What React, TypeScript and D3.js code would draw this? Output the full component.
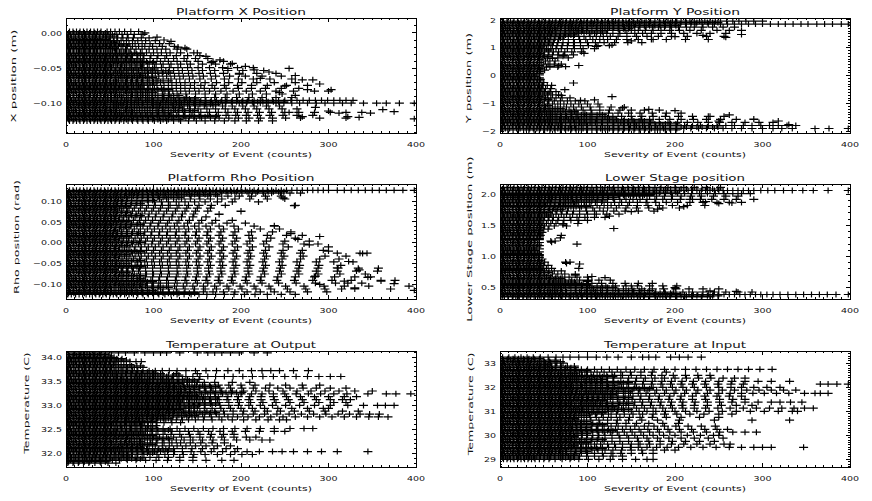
import React from "react";
import * as d3 from "d3";

type Row = [number, string];
type Pt = [number, number];

// ---------- shared x axis ----------
const severityDomain: [number, number] = [0, 400];
const severityTicks = [0, 100, 200, 300, 400];
const severityLabel = "Severity of Event (counts)";

// dense low-severity x values (counts), staggered sets read from the solid regions
const coreA = "0 4 8 12 16 20 24 28 32 36 40";
const coreB = "1 5 9 14 18 22 26 31 35 39 43";
const coreC = "2 6 11 15 19 23 27 30 34 38 42";
const fill45 = "3 9 15 21 27 33 39 45";
const fill55 = "3 9 15 21 27 33 39 45 51 55";
const fill70 = "3 9 15 21 27 33 39 45 51 57 63 69";
const fill85 = "3 9 15 21 27 33 39 45 51 57 63 69 75 81 85";
const fill100 = "3 9 15 21 27 33 39 45 51 57 63 69 75 81 87 93 99";
const fill120 = "3 9 15 21 27 33 39 45 51 57 63 69 75 81 87 93 99 105 111 117";
const fill130 = "3 9 15 21 27 33 39 45 51 57 63 69 75 81 87 93 99 105 111 117 123 129";
const fill150 = "3 9 15 21 27 33 39 45 51 57 63 69 75 81 87 93 99 105 111 117 123 129 135 141 147";
const fill175 = "3 9 15 21 27 33 39 45 51 57 63 69 75 81 87 93 99 105 111 117 123 129 135 141 147 153 159 165 171";
const fill200 = "3 9 15 21 27 33 39 45 51 57 63 69 75 81 87 93 99 105 111 117 123 129 135 141 147 153 159 165 171 177 183 189 195 201";
const fill250 = "3 9 15 21 27 33 39 45 51 57 63 69 75 81 87 93 99 105 111 117 123 129 135 141 147 153 159 165 171 177 183 189 195 201 207 213 219 225 231 237 243 249";

// ---------- Platform X Position ----------
const platformXTicks = [-0.1, -0.05, 0.0];
const platformXTickText = ["\u22120.10", "\u22120.05", "0.00"];
const platformXRows: Row[] = [
  [0.002, coreA + " 47 51 56 61 67 74 83"],
  [-0.002, coreB + " 48 53 58 64 70 78 88"],
  [-0.007, coreC + " 46 50 55 59 65 71 77 86 95"],
  [-0.011, coreA + " 45 49 54 58 63 69 76 82 91 102"],
  [-0.015, coreB + " 47 52 56 61 66 72 79 87 96 107 118"],
  [-0.019, coreC + " 46 50 55 60 65 70 76 83 90 99 110 124"],
  [-0.023, coreA + " 45 49 53 58 63 68 74 80 87 95 104 114 127 138"],
  [-0.028, coreB + " 47 51 56 61 66 72 78 85 92 100 109 119 131 146"],
  [-0.032, coreC + " 46 50 54 59 64 70 76 82 89 97 105 115 126 139 153"],
  [-0.036, coreA + " 44 48 53 58 63 68 74 81 88 96 104 113 123 135 148 162"],
  [-0.04, coreB + " 47 51 55 60 66 72 78 85 92 100 108 117 127 138 151 168 180"],
  [-0.044, coreC + " 46 50 54 59 64 69 75 81 88 95 103 111 120 131 142 156 171 188"],
  [-0.049, coreA + " 44 48 52 57 62 67 73 79 86 93 101 109 118 128 139 151 164 179 196 214"],
  [-0.053, coreB + " 47 51 56 61 66 71 77 83 90 97 105 114 123 133 144 156 170 185 202 226"],
  [-0.057, coreC + " 46 50 54 59 64 69 75 81 87 94 102 110 119 129 140 152 165 180 198 218 240"],
  [-0.061, coreA + " 44 48 52 57 62 67 72 78 84 91 98 106 115 124 134 145 157 171 187 205 224 246"],
  [-0.065, coreB + " 47 51 56 60 65 70 76 82 88 95 103 111 120 130 141 153 166 181 197 214 233 258"],
  [-0.07, coreC + " 46 50 54 58 63 68 74 80 86 93 100 108 117 126 136 147 159 172 186 201 218 238 262"],
  [-0.074, coreA + " 44 48 52 56 61 66 71 77 83 89 96 104 112 121 131 142 154 167 181 196 212 230 252 276"],
  [-0.078, coreB + " 47 51 55 60 65 70 75 81 87 94 101 109 117 126 136 147 158 170 183 197 212 228 246 266"],
  [-0.082, coreC + " 46 50 54 58 63 68 73 79 85 91 98 105 113 122 131 141 152 164 177 191 206 222 240 260 284 300"],
  [-0.086, coreA + " 44 48 52 56 61 66 71 76 82 88 95 102 110 118 127 137 148 159 171 184 198 213 229 247"],
  [-0.091, coreB + " 47 51 55 59 64 69 74 79 85 91 98 105 112 120 129 138 148 159 170 182 195 209 224 240 258"],
  [-0.095, coreC + " 45 48 52 55 59 63 67 71 75 79 83 87 91 95 100 105 110 115 120 125 130 136 142 148 154 160 166 172 178 184 190 196 202 208 215 222 229 236 243 250 257 264 271 278 285 292 299 306 313 320 328"],
  [-0.099, coreA + " 44 47 51 54 58 62 66 70 74 78 83 88 93 98 103 108 114 120 126 132 139 146 153 160 167 174 182 190 198 206 214 222 231 240 249 258 267 276 286 296 306 316 326 340 355 366 381 398"],
  [-0.103, coreB + " 47 51 55 60 65 70 75 81 87 93 100 107 114 122 130 139 148 158 168 179 190 202 215 229 244"],
  [-0.107, coreC + " 46 50 54 58 63 68 73 78 84 90 96 103 110 117 125 133 142 151 161 171 182 193 205 218 232 247 264"],
  [-0.112, coreA + " 44 48 52 56 61 66 71 76 81 87 93 99 106 113 120 128 136 145 154 164 174 185 196 208 221 235 250 266 284 302 320 338"],
  [-0.116, coreB + " 47 51 55 59 64 69 74 79 85 91 97 104 111 118 126 134 143 152 162 172 183 194 206 219 233 248 264 282"],
  [-0.12, coreC + " 46 50 54 58 62 67 72 77 82 88 94 100 107 114 121 129 137 146 155 165 175 186 197 209 222 236 251 268 290 320"],
  [-0.124, coreA + " 44 48 52 56 61 66 71 76 82 88 94 101 108 115 123 131 140 149 159 170 181 193 206 220 236"],
  [0.0, fill45], [-0.0045, fill55], [-0.009, fill45], [-0.013, fill55], [-0.017, fill70], [-0.021, fill55],
  [-0.0255, fill70], [-0.03, fill85], [-0.034, fill70], [-0.038, fill85], [-0.042, fill100], [-0.0465, fill85],
  [-0.051, fill100], [-0.055, fill120], [-0.059, fill85], [-0.063, fill100], [-0.0675, fill120], [-0.072, fill100],
  [-0.076, fill85], [-0.08, fill120], [-0.084, fill100], [-0.0885, fill130], [-0.093, fill150], [-0.097, fill250],
  [-0.101, fill175], [-0.105, fill130], [-0.1095, fill150], [-0.114, fill120], [-0.118, fill175], [-0.122, fill130],
];
const platformXLoose: Pt[] = [
  [90, 0.0], [104, -0.006], [112, -0.01], [120, -0.012], [128, -0.02], [136, -0.021], [150, -0.028],
  [160, -0.033], [176, -0.038], [166, -0.042], [190, -0.043], [205, -0.047], [215, -0.052], [232, -0.055],
  [255, -0.05], [262, -0.06], [270, -0.066], [282, -0.066], [290, -0.072], [303, -0.08], [276, -0.08],
  [250, -0.075], [244, -0.084], [222, -0.064], [198, -0.058], [185, -0.05], [262, -0.088], [285, -0.105],
  [300, -0.11], [312, -0.113], [322, -0.118], [335, -0.119], [348, -0.113], [362, -0.108], [375, -0.111],
  [398, -0.121], [270, -0.118], [255, -0.112],
];

// ---------- Platform Y Position ----------
const platformYTicks = [-2, -1, 0, 1, 2];
const platformYTickText = ["\u22122", "\u22121", "0", "1", "2"];
const platformYRows: Row[] = [
  [1.96, coreA + " 44 48 52 56 60 64 68 72 76 80 84 88 92 96 100 104 108 112 116 120 124 128 132 136 140 144 148 152 157 162 167 172 177 182 187 192 197 202 207 212 217 222 228 234 240 246 252 259 266 273 281 290 300"],
  [1.85, coreB + " 47 51 55 59 63 67 71 75 79 83 87 91 95 99 103 107 111 115 120 125 130 135 140 145 150 155 160 165 170 176 182 188 194 200 206 212 218 224 231 238 245 252 260 268 276 284 292 300 309 318 326 335 344 352 362 371 380 390 398"],
  [1.74, coreC + " 46 50 54 58 62 66 70 74 78 82 86 90 95 100 105 110 115 120 125 130 136 142 148 154 160 167 174 181 188 196 204 213 222 232 243 255 268"],
  [1.63, coreA + " 44 48 52 56 60 64 69 74 79 84 89 94 99 105 111 117 123 129 136 143 150 158 166 175 184 194 205 217 230 248 262 276"],
  [1.52, coreB + " 47 51 55 59 64 69 74 79 84 90 96 102 108 115 122 129 137 145 154 163 173 184 196 210 225 240 258"],
  [1.41, coreC + " 46 50 54 58 63 68 73 78 84 90 96 103 110 118 126 135 145 156 168 181 196 214 236 256"],
  [1.3, coreA + " 44 48 52 57 62 67 72 78 84 91 98 106 114 123 133 145 158 173 190 212 238"],
  [1.19, coreB + " 47 51 56 61 66 72 78 85 92 100 109 119 131 146 162"],
  [1.08, coreC + " 46 50 55 60 65 71 77 84 92 101 112 125"],
  [0.97, coreA + " 44 48 53 58 64 70 77 85 95 108"],
  [0.86, coreB + " 47 51 56 61 67 74 82 93"],
  [0.75, coreC + " 46 50 55 60 66 73 84"],
  [0.64, coreA + " 44 49 54 60 66 78"],
  [0.53, coreB + " 47 52 57 63"],
  [0.42, coreC + " 45 50 55 62 70"],
  [0.31, coreA + " 44 48 53 57 66"],
  [0.2, coreB + " 46 51"],
  [0.09, coreC + " 45"],
  [-0.02, coreA],
  [-0.13, coreB + " 46"],
  [-0.24, coreC + " 45 50"],
  [-0.35, coreA + " 44 49 54"],
  [-0.46, coreB + " 47 52 58"],
  [-0.57, coreC + " 46 51 57 64"],
  [-0.68, coreA + " 44 49 54 60 67"],
  [-0.79, coreB + " 47 52 58 64 71 80"],
  [-0.9, coreC + " 46 51 56 62 69 77 86 97"],
  [-1.01, coreA + " 44 49 54 60 66 73 81 90 100 112"],
  [-1.12, coreB + " 47 52 57 63 69 76 84 93 103 114 127 142"],
  [-1.23, coreC + " 46 50 55 60 66 72 79 87 95 104 114 125 137 150 165 182"],
  [-1.34, coreA + " 44 48 53 58 63 69 75 82 89 97 105 114 124 135 147 160 174 190 207"],
  [-1.45, coreB + " 47 51 55 60 65 70 76 82 89 96 103 111 120 129 139 150 162 175 189 204 220 238 256"],
  [-1.56, coreC + " 46 50 54 58 63 68 73 78 84 90 96 103 110 117 125 133 142 151 161 171 182 194 207 221 236 252 270 290"],
  [-1.67, coreA + " 44 48 52 56 60 65 70 75 80 85 91 97 103 109 116 123 130 138 146 154 163 172 182 192 203 214 226 238 251 265 280 296 312"],
  [-1.78, coreB + " 47 51 55 59 63 67 71 75 80 85 90 95 100 105 111 117 123 129 135 142 149 156 163 170 178 186 194 202 211 220 229 238 248 258 268 278 288 298 308 318 328 338"],
  [-1.89, coreC + " 46 50 54 58 62 66 70 74 78 82 86 90 95 100 105 110 115 120 125 130 136 142 148 154 160 166 173 180 187 194 202 210 218 227 236 245 255 265 276 288 300 312 322 334 360 376 398"],
  [1.905, fill250], [1.795, fill200], [1.685, fill150], [1.575, fill120], [1.465, fill85], [1.355, fill70],
  [1.245, fill55], [1.135, fill55], [1.025, fill45], [0.915, fill55], [0.805, fill45], [0.695, fill55],
  [0.585, fill45], [0.475, fill45], [0.365, fill45], [0.255, fill45], [0.145, fill45], [0.035, fill45],
  [-0.075, fill45], [-0.185, fill45], [-0.295, fill45], [-0.405, fill45], [-0.515, fill45], [-0.625, fill55],
  [-0.735, fill45], [-0.845, fill55], [-0.955, fill45], [-1.065, fill55], [-1.175, fill70], [-1.285, fill85],
  [-1.395, fill120], [-1.505, fill130], [-1.615, fill175], [-1.725, fill200], [-1.835, fill250], [-1.94, fill200],
];
const platformYLoose: Pt[] = [
  [57, 0.35], [67, 0.36], [75, 0.33], [90, 0.37], [60, 0.62], [72, 0.7], [96, 0.8], [110, 1.05], [128, 1.1],
  [150, 1.25], [175, 1.3], [200, 1.4], [232, 1.45], [258, 1.38], [276, 1.48], [48, -0.34], [59, -0.34],
  [74, -0.5], [84, -0.26], [128, -0.75], [108, -0.86], [92, -0.88], [70, -0.7], [140, -1.15], [170, -1.2],
  [200, -1.25], [240, -1.45], [262, -1.4], [290, -1.55], [318, -1.62], [330, -1.75], [250, -1.62],
];

// ---------- Platform Rho Position ----------
const rhoTicks = [-0.1, -0.05, 0.0, 0.05, 0.1];
const rhoTickText = ["\u22120.10", "\u22120.05", "0.00", "0.05", "0.10"];
const rhoRows: Row[] = [
  [0.126, coreA + " 44 48 52 56 60 64 68 72 76 80 84 88 92 96 100 104 108 112 116 120 124 128 132 136 140 144 148 152 156 160 164 168 172 176 180 184 188 192 196 200 205 210 215 220 225 230 235 240 246 252 258 264 270 276 282 288 294 300 310 318 326 334 342 350 358 366 375 385 398"],
  [0.119, coreB + " 47 51 55 59 63 68 73 78 83 88 93 98 103 108 114 120 126 132 138 144 150 157 164 171 178 185 193 201 209 217 226 235 245 256 268"],
  [0.112, coreC + " 46 50 54 58 62 67 72 77 82 88 94 100 106 113 120 127 135 143 152 162 173 185 198 212 228 246"],
  [0.105, coreA + " 44 48 52 56 60 65 70 75 81 87 93 100 107 115 123 132 142 153 165 178 193 210 230 250"],
  [0.098, coreB + " 47 51 55 59 64 69 75 81 87 94 101 109 117 126 136 147 159 173 190 220"],
  [0.09, coreC + " 46 50 54 58 63 68 74 80 87 94 102 110 119 129 140 152 166 182 262"],
  [0.083, coreA + " 44 48 52 56 61 66 72 78 85 92 100 108 117 127 138 150 165"],
  [0.076, coreB + " 47 51 55 59 64 70 76 83 90 98 106 115 125 136 148 162 200"],
  [0.069, coreC + " 46 50 54 58 63 68 74 80 87 95 103 112 122 133 146 175"],
  [0.062, coreA + " 44 48 52 56 61 66 72 79 86 94 102 111 121 132 145 160"],
  [0.054, coreB + " 47 51 55 60 65 71 77 84 91 99 108 118 129 141 155 171 190"],
  [0.047, coreC + " 46 50 54 58 63 69 75 82 89 97 106 116 127 139 152 167 184 205"],
  [0.04, coreA + " 44 48 52 57 62 68 74 81 88 96 105 114 124 135 147 160 175 192 215 238"],
  [0.033, coreB + " 47 51 56 61 66 72 78 85 93 101 110 119 129 140 152 165 180 197 222 244"],
  [0.026, coreC + " 46 50 54 59 64 70 76 83 90 98 107 116 126 137 149 162 177 193 212 236 257"],
  [0.018, coreA + " 44 48 53 58 63 69 75 82 89 97 106 115 125 136 148 161 175 191 209 230 252 270"],
  [0.011, coreB + " 47 51 56 61 66 72 79 86 93 101 110 119 129 140 152 165 179 195 213 234 262"],
  [0.004, coreC + " 46 50 55 60 65 71 77 84 91 99 108 117 127 138 150 163 177 193 210 229 250 278"],
  [-0.003, coreA + " 44 48 53 58 64 70 76 83 90 98 106 115 125 136 148 161 175 190 207 226 248 272 288"],
  [-0.01, coreB + " 47 51 56 61 67 73 79 86 94 102 111 120 130 141 153 166 180 196 213 232 254 300"],
  [-0.018, coreC + " 46 50 55 60 65 71 78 85 92 100 109 118 128 139 151 164 178 193 210 228 248 270 294"],
  [-0.025, coreA + " 44 48 53 58 63 69 76 83 90 98 107 116 126 137 149 162 176 191 208 226 246 268 310 336 344"],
  [-0.032, coreB + " 47 51 56 61 67 73 79 86 94 102 111 120 130 141 153 166 180 195 211 229 249 271 296 320"],
  [-0.039, coreC + " 46 50 55 60 65 71 77 84 92 100 109 118 128 139 151 164 178 193 209 227 247 268 290 312"],
  [-0.046, coreA + " 44 48 53 58 63 69 75 82 90 98 107 116 126 137 149 162 176 191 207 225 244 264 286 306 328"],
  [-0.054, coreB + " 47 51 56 61 66 72 79 86 93 101 110 119 129 140 152 165 179 194 210 228 247 267 289 314"],
  [-0.061, coreC + " 46 50 55 60 65 71 77 84 91 99 108 117 127 138 150 163 177 192 208 226 245 266 288 311 334 357"],
  [-0.068, coreA + " 44 48 53 58 64 70 76 83 91 99 108 117 127 138 150 163 177 192 208 225 244 264 286 310 332"],
  [-0.075, coreB + " 47 51 56 61 66 72 78 85 92 100 109 118 128 139 151 164 178 193 209 227 246 266 288 313 342"],
  [-0.082, coreC + " 46 50 55 60 65 71 77 84 91 99 107 116 126 137 149 161 175 190 206 223 242 262 284 307 330 348"],
  [-0.09, coreA + " 44 48 53 58 63 69 75 82 89 97 106 115 125 136 148 160 174 189 205 222 241 261 282 304 326 360 376"],
  [-0.097, coreB + " 47 51 56 61 66 72 78 85 92 100 108 117 127 138 150 162 176 191 207 224 243 263 285 308 322 338"],
  [-0.104, coreC + " 46 50 55 60 65 71 77 84 91 98 106 115 124 134 145 157 170 184 199 215 232 251 272 295 318 346 392"],
  [-0.111, coreA + " 44 48 52 57 62 67 73 79 86 93 100 108 117 126 136 147 159 172 186 201 217 234 253 274 296 315 330 371"],
  [-0.118, coreB + " 47 51 55 60 65 70 76 82 88 95 102 110 118 127 136 146 157 168 180 193 207 222 238 256 276 298"],
  [-0.124, coreC + " 46 50 54 58 62 67 72 77 82 88 94 100 106 113 120 127 135 143 152 161 171 181 192 204 216 230 246 262"],
  [0.1225, fill250], [0.1155, fill175], [0.1085, fill130], [0.1015, fill100], [0.094, fill85], [0.0865, fill70],
  [0.0795, fill55], [0.0725, fill70], [0.0655, fill85], [0.058, fill55], [0.0505, fill70], [0.0435, fill85],
  [0.0365, fill70], [0.0295, fill55], [0.022, fill85], [0.0145, fill70], [0.0075, fill55], [0.0005, fill85],
  [-0.0065, fill70], [-0.014, fill55], [-0.0215, fill85], [-0.0285, fill70], [-0.0355, fill55], [-0.0425, fill85],
  [-0.05, fill70], [-0.0575, fill85], [-0.0645, fill55], [-0.0715, fill70], [-0.0785, fill85], [-0.086, fill85],
  [-0.0935, fill100], [-0.1005, fill85], [-0.1075, fill120], [-0.1145, fill100], [-0.121, fill150],
];
const rhoLoose: Pt[] = [
  [175, 0.068], [261, 0.089], [220, 0.098], [248, 0.108], [200, 0.075], [238, 0.041], [257, 0.022],
  [265, 0.008], [278, -0.005], [290, 0.015], [300, -0.02], [339, -0.026], [323, -0.045], [310, -0.06],
  [335, -0.065], [356, -0.068], [345, -0.083], [375, -0.098], [360, -0.092], [398, -0.114], [330, -0.108],
  [318, -0.092], [290, -0.1], [285, -0.08],
];

// ---------- Lower Stage position ----------
const stageTicks = [0.5, 1.0, 1.5, 2.0];
const stageTickText = ["0.5", "1.0", "1.5", "2.0"];
const stageRows: Row[] = [
  [2.11, coreA + " 44 48 52 56 60 64 68 72 76 80 84 88 92 96 100 105 110 115 120 125 130 135 140 146 152 158 164 170 177 184 192 200 210 222 236 252"],
  [2.06, coreB + " 47 51 55 59 63 67 71 75 79 83 87 91 95 99 103 107 111 115 119 123 127 131 135 139 143 147 151 155 159 163 167 171 175 179 183 187 191 195 200 205 210 215 220 225 230 235 240 245 250 255 260 266 272 278 284 290 298 306 314 324 334 346 358 375 398"],
  [2.01, coreC + " 46 50 54 58 62 66 70 74 78 82 86 90 94 98 102 106 110 114 118 122 127 132 137 142 147 152 158 164 170 176 182 189 196 203 211 219 228 237 246 256 266 276 286"],
  [1.97, coreA + " 44 48 52 56 60 64 68 72 77 82 87 92 97 102 107 112 118 124 130 136 142 149 156 163 171 179 188 197 207 218 230 244 258 272"],
  [1.92, coreB + " 47 51 55 59 63 68 73 78 83 88 93 99 105 111 117 123 130 137 144 152 160 168 177 186 196 206 217 229 242 256 270 290"],
  [1.87, coreC + " 46 50 54 58 63 68 73 78 84 90 96 102 109 116 123 131 139 148 157 167 178 190 203 217 232 248 262 276"],
  [1.82, coreA + " 44 48 52 57 62 67 72 78 84 90 97 104 111 119 127 136 146 157 169 182 197 214 234"],
  [1.78, coreB + " 47 51 56 61 66 72 78 84 91 98 106 114 123 133 144 156 170 186 205"],
  [1.73, coreC + " 46 50 55 60 65 71 77 84 91 99 108 118 130 143 158 176"],
  [1.68, coreA + " 44 48 53 58 64 70 76 83 91 100 110 122 136"],
  [1.63, coreB + " 47 51 56 61 67 73 80 88 97 108 120"],
  [1.58, coreC + " 46 50 55 60 66 73 81 90 100"],
  [1.53, coreA + " 44 48 53 58 64 72 89"],
  [1.49, coreB + " 47 51 56 62 76"],
  [1.44, coreC + " 46 50 55"],
  [1.39, coreA + " 44 48"],
  [1.34, coreB + " 46 70"],
  [1.29, coreC + " 45"],
  [1.25, coreA + " 58 63"],
  [1.2, coreB + " 88"],
  [1.15, coreC],
  [1.1, coreA],
  [1.05, coreB],
  [1.01, coreC + " 45"],
  [0.96, coreA + " 44 48"],
  [0.91, coreB + " 47 51 75 80"],
  [0.86, coreC + " 46 50 55"],
  [0.81, coreA + " 44 48 53 59 90"],
  [0.77, coreB + " 47 51 56 62 70"],
  [0.72, coreC + " 46 50 55 60 66 74 86"],
  [0.67, coreA + " 44 48 53 58 64 71 79 88 100"],
  [0.62, coreB + " 47 51 56 61 67 74 82 91 101 113 126"],
  [0.57, coreC + " 46 50 55 60 65 71 78 86 95 105 116 129 143 158 174"],
  [0.53, coreA + " 44 48 52 57 62 67 73 79 86 94 102 111 121 132 144 157 171 186 202"],
  [0.48, coreB + " 47 51 55 60 65 70 75 81 87 93 100 107 115 123 132 141 151 162 174 187 201 216 232 250"],
  [0.43, coreC + " 46 50 54 58 62 66 71 76 81 86 91 97 103 109 115 122 129 136 144 152 160 169 178 188 198 209 220 232 245 258 272 288"],
  [0.39, coreA + " 44 48 52 56 60 64 68 72 76 80 84 88 92 96 100 104 108 112 116 121 126 131 136 141 146 151 156 161 166 171 176 181 186 191 196 201 206 211 216 221 226 232 238 244 250 256 262 268 274 280 286 292 298 305 312 320 329 338 347 356 365 374 384 398"],
  [0.35, coreB + " 47 51 55 59 63 67 71 75 79 84 89 94 99 104 109 114 120 126 132 138 144 150 157 164 171 178 186 194 202 211 220 230 240"],
  [2.085, fill250], [2.035, fill200], [1.99, fill175], [1.945, fill130], [1.895, fill120], [1.845, fill85],
  [1.8, fill100], [1.755, fill70], [1.705, fill55], [1.655, fill55], [1.605, fill45], [1.555, fill45],
  [1.51, fill45], [1.465, fill45], [1.415, fill45], [1.365, fill45], [1.315, fill45], [1.27, fill45],
  [1.225, fill45], [1.175, fill45], [1.125, fill45], [1.075, fill45], [1.03, fill45], [0.985, fill45],
  [0.935, fill45], [0.885, fill45], [0.835, fill45], [0.79, fill45], [0.745, fill55], [0.695, fill55],
  [0.645, fill70], [0.595, fill85], [0.55, fill100], [0.505, fill130], [0.455, fill175], [0.41, fill200],
  [0.37, fill250],
];
const stageLoose: Pt[] = [
  [72, 1.51], [89, 1.53], [130, 1.45], [59, 1.23], [69, 1.3], [88, 1.2], [76, 0.89], [91, 0.88], [86, 0.7],
  [105, 0.68], [120, 0.66], [220, 1.92], [235, 1.88], [250, 1.85], [265, 1.86], [210, 1.8], [180, 1.76],
  [150, 1.72], [125, 1.65], [150, 0.53], [200, 0.5], [240, 0.45], [270, 0.44], [100, 0.6],
];

// ---------- Temperature at Output ----------
const outTicks = [32.0, 32.5, 33.0, 33.5, 34.0];
const outTickText = ["32.0", "32.5", "33.0", "33.5", "34.0"];
const outRows: Row[] = [
  [34.09, "3 10 17 24 31 38 45 52 60 68 78 90 100 108 115 130 150 162 170 178 188 198 215 230"],
  [34.03, coreA + " 44 49"],
  [33.97, coreB + " 47 52 58 64"],
  [33.91, coreC + " 46 50 55 60 66 73 80 86"],
  [33.85, coreA + " 44 49 54 60 66 73"],
  [33.79, coreB + " 47 52 57 63 70 78 88"],
  [33.72, coreC + " 46 50 55 60 65 70 76 82 88 95 102 110 118 127 137 148 160 172 185 198 212 224 234 244 260 277"],
  [33.66, coreA + " 44 48 53 58 63 68 74 80 86 93 100 108 126 150"],
  [33.6, coreB + " 47 51 55 59 64 69 74 79 84 90 96 102 108 115 122 129 137 145 153 162 171 181 191 202 213 225 237 250 263 276 289 302 314"],
  [33.54, coreC + " 46 50 54 58 62 66 70 74 78 82 86 90 95 100 105 110 115 121 127 133 139 145 152"],
  [33.48, coreA + " 44 48 52 56 60 64 68 72 76 80 84 88 92 96 100 104 108 113 118 123 128 133 138 144 150 158 170 190 210"],
  [33.42, coreB + " 47 51 55 59 63 67 71 75 79 83 87 91 95 99 103 107 111 115 119 124 129 134 139 144 149 156 164 174 186 200 216 233 251 270 290"],
  [33.36, coreC + " 46 50 54 58 62 66 70 74 78 82 86 90 94 98 102 106 110 114 118 122 126 131 136 141 146 152 158 166 176 188 201 214 228 242 256 271 286 302 320"],
  [33.3, coreA + " 44 48 52 56 60 64 68 72 76 80 84 88 92 96 100 104 108 112 116 120 124 128 132 137 142 147 153 160 168 178 190 203 217 232 248 264 280 296 312 330 350"],
  [33.24, coreB + " 47 51 55 59 63 67 71 75 79 83 87 91 95 99 103 107 111 115 119 123 127 131 135 139 144 149 155 162 170 179 189 200 212 224 237 250 263 277 291 306 321 345 366 377 394"],
  [33.18, coreC + " 46 50 54 58 62 66 70 74 78 82 86 90 94 98 102 106 110 114 118 122 126 130 134 139 144 150 157 165 174 185 197 210 223 237 252 268 284 300 318 332"],
  [33.12, coreA + " 44 48 52 56 60 64 68 72 76 80 84 88 92 96 100 104 108 112 116 120 124 128 133 138 143 149 156 164 173 184 196 209 223 238 254 270 286 302 316 325"],
  [33.06, coreB + " 47 51 55 59 63 67 71 75 79 83 87 91 95 99 103 107 111 115 119 123 127 131 135 140 145 151 158 166 175 186 198 211 225 240 256 272 289 306 320"],
  [33.0, coreC + " 46 50 54 58 62 66 70 74 78 82 86 90 94 98 102 106 110 114 118 122 126 130 135 140 146 152 159 167 176 186 197 209 222 236 251 267 284 302 322 340 356 365 375"],
  [32.94, coreA + " 44 48 52 56 60 64 68 72 76 80 84 88 92 96 100 104 108 112 116 121 126 131 137 143 150 158 167 177 188 200 213 227 242 258 276 294 300"],
  [32.88, coreB + " 47 51 55 59 63 67 71 75 79 83 87 91 95 99 103 107 111 115 119 124 129 134 140 146 153 161 170 180 191 203 216 230 245 261 278 296 316 334"],
  [32.82, coreC + " 46 50 54 58 62 66 70 74 78 82 86 90 94 98 102 106 110 114 118 122 127 132 137 143 149 156 164 172 181 191 202 214 227 241 255 269 283 297 311 324 336 347 358"],
  [32.76, coreA + " 44 48 52 56 60 64 68 72 76 80 84 88 92 96 100 104 108 112 117 122 127 132 138 144 151 158 166 175 185 196 208 221 234 248 262 276 290 304 318 332 346 357 368"],
  [32.7, coreB + " 47 51 55 59 63 67 71 75 79 83 88 93 98 103 108 114 120 126 133 140 148 157 167 178 190 203 217 231 244 252"],
  [32.64, coreC + " 46 50 54 58 63 68 73 78 84 90 97 104 112 121 131"],
  [32.58, coreA + " 44 48 52 57 62 67 73 79 86 94 103"],
  [32.52, coreB + " 47 51 55 59 64 69 74 79 85 91 97 104 111 119 127 136 146 157 168 180 193 207 222 238 256 272 282"],
  [32.46, coreC + " 46 50 54 58 63 68 73 79 85 91 98 105 113 121 130 140 151 163 176 190 205 221 238 250"],
  [32.4, coreA + " 44 48 52 56 61 66 71 77 83 89 96 103 111 120 130 141 153 166 180 192"],
  [32.34, coreB + " 47 51 55 60 65 70 75 81 87 93 100 107 115 123 132 142 153 165 178 192 206 217"],
  [32.28, coreC + " 46 50 54 58 63 68 73 78 84 90 96 103 110 118 126 135 145 156 168 181 195 210 224 233"],
  [32.22, coreA + " 44 48 52 57 62 67 72 78 84 90 97 104 112 121 131 142 154 167 181"],
  [32.16, coreB + " 47 51 55 60 65 70 76 82 88 95 102 110 118 127 137 148 160 173 188"],
  [32.1, coreC + " 46 50 54 59 64 69 74 80 86 92 99 106 114 123 133 144 156 169 183 196"],
  [32.04, coreA + " 44 48 52 56 61 66 71 76 82 88 94 101 108 116 124 133 143 154 166 179 193 207 221 236 247 260 276 292 310 345"],
  [31.98, coreB + " 47 51 55 60 65 70 76 82 89 96 104 113 123 134 146 159 173 188 201 213"],
  [31.92, coreC + " 46 50 55 60 66 72 79 87 96 106 117 130 145"],
  [31.86, "0 5 9 14 19 24 29 34 40 46 53 61 70 80 91 103 116 130 145 160 178 192"],
  [31.8, "2 8 14 20 26 33 40 48 57"],
  [34.06, fill45], [34.0, fill55], [33.94, fill70], [33.88, fill55], [33.82, fill85], [33.755, fill70],
  [33.69, fill100], [33.63, fill130], [33.57, fill120], [33.51, fill150], [33.45, fill130], [33.39, fill175],
  [33.33, fill150], [33.27, fill200], [33.21, fill150], [33.15, fill175], [33.09, fill130], [33.03, fill175],
  [32.97, fill150], [32.91, fill130], [32.85, fill175], [32.79, fill150], [32.73, fill120], [32.67, fill100],
  [32.61, fill85], [32.55, fill100], [32.49, fill120], [32.43, fill85], [32.37, fill100], [32.31, fill120],
  [32.25, fill85], [32.19, fill100], [32.13, fill85], [32.07, fill120], [32.01, fill100], [31.95, fill70],
  [31.89, fill85], [31.83, fill45],
];
const outLoose: Pt[] = [];

// ---------- Temperature at Input ----------
const inTicks = [29, 30, 31, 32, 33];
const inTickText = ["29", "30", "31", "32", "33"];
const inRows: Row[] = [
  [33.25, "3 10 17 24 31 38 46 55 64 72 80 90 100 110 122 135 150 163 170 178 195 205 215 230"],
  [33.13, coreA + " 45 50 56 63"],
  [33.0, coreB + " 47 52 58 65 72"],
  [32.88, coreC + " 46 50 54 59 64 70 77 85"],
  [32.75, coreA + " 44 48 52 56 60 64 69 74 80 86 93 100 108 116 125 134 144 154 165 176 188 200 212 224 236 248 260 272 284 297 311"],
  [32.63, coreB + " 47 51 55 59 63 67 71 75 80 85 91 97 104 111 119 128 138 149 161 174 190"],
  [32.5, coreC + " 46 50 54 58 62 66 70 74 78 83 88 94 100 107 114 122 131 140 150 161 173 185 198 212 226 240"],
  [32.38, coreA + " 44 48 52 56 60 64 68 72 76 80 85 90 96 102 108 115 122 130 138 147 156 166 177 188 200 213 227 241 255 268 280"],
  [32.25, coreB + " 47 51 55 59 63 67 71 75 79 83 88 93 98 104 110 116 123 130 138 146 155 164 174 185 196 208 221 235 250 265 280 295 310 331"],
  [32.13, coreC + " 46 50 54 58 62 66 70 74 78 82 87 92 97 103 109 115 122 129 137 145 154 163 173 184 195 207 220 234 249 264 278 366 375 385 398"],
  [32.0, coreA + " 44 48 52 56 60 64 68 72 76 80 84 89 94 99 105 111 117 124 131 139 147 156 165 175 186 197 209 222 236 250 264 276 290 305 320"],
  [31.88, coreB + " 47 51 55 59 63 67 71 75 79 83 88 93 98 103 109 115 121 128 135 143 151 160 169 179 190 201 213 226 240 254 268 282 296 310 324 338"],
  [31.75, coreC + " 46 50 54 58 62 66 70 74 78 82 86 91 96 101 107 113 119 126 133 141 149 158 167 177 188 199 211 224 237 250 263 276 289 302 316 330 348 360 366 375"],
  [31.63, coreA + " 44 48 52 56 60 64 68 72 76 80 85 90 95 101 107 113 120 127 135 143 152 161 171 182 194 207 220 234 248 262 276"],
  [31.5, coreB + " 47 51 55 59 63 67 71 75 79 84 89 94 100 106 112 119 126 134 142 151 160 170 181 193 206 220 235 251 266 280"],
  [31.38, coreC + " 46 50 54 58 62 66 70 74 78 82 87 92 97 103 109 115 122 129 137 145 154 163 173 184 196 209 223 237 251 265 280 295 310 320 332 345"],
  [31.25, coreA + " 44 48 52 56 60 64 68 72 76 80 85 90 95 101 107 114 121 128 136 144 153 162 172 183 195 208 222 237 253 270 288"],
  [31.13, coreB + " 47 51 55 59 63 67 71 75 79 84 89 94 99 105 111 117 124 131 139 147 156 165 175 186 197 209 222 235 249 263 278 293 308 322 336 348 358"],
  [31.0, coreC + " 46 50 54 58 62 66 70 74 78 82 86 91 96 101 107 113 120 127 134 142 150 159 168 178 189 200 212 225 239 254 270 286 302 318 334 340"],
  [30.88, coreA + " 44 48 52 56 60 64 68 72 76 80 85 90 96 102 109 116 124 133 142 152 163 175 188 202 217 233 250 265"],
  [30.75, coreB + " 47 51 55 59 63 67 71 75 79 84 90 96 103 110 118 127 137 148 160 174 190 207 228 250"],
  [30.63, coreC + " 46 50 54 58 62 66 70 74 78 83 89 96 104 113 123 134 147 162 180 205 245 288 331"],
  [30.5, coreA + " 44 48 52 56 60 64 68 72 76 80 86 92 99 106 114 123 133 144 156 170 186 204"],
  [30.38, coreB + " 47 51 55 59 63 67 71 75 79 83 88 93 99 105 112 119 127 135 144 154 165 176 188 201 215 230 246"],
  [30.25, coreC + " 46 50 54 58 62 66 70 74 78 82 87 92 98 104 110 117 124 132 140 149 159 169 180 192 205 219 234 248 260"],
  [30.13, coreA + " 44 48 52 56 60 64 68 72 76 80 84 89 94 100 106 112 119 126 134 142 151 161 171 182 194 207 221 236 251 266 280 293"],
  [30.0, coreB + " 47 51 55 59 63 67 71 75 79 84 89 94 100 106 113 120 128 136 145 154 164 175 187 200 214 229 244 250"],
  [29.88, coreC + " 46 50 54 58 62 66 70 74 78 82 87 93 99 105 112 120 128 137 147 157 168 180 193 207 222 238 255"],
  [29.75, coreA + " 44 48 52 56 60 64 68 72 76 80 85 91 97 104 111 119 128 137 147 158 170 183 197 212 228 245"],
  [29.63, coreB + " 47 51 55 59 63 67 71 75 79 84 89 95 101 108 115 123 131 140 150 160 171 183 196 210 225 240 256 263"],
  [29.5, coreC + " 46 50 54 58 62 66 70 74 78 82 87 92 98 104 110 117 124 132 140 149 158 168 179 191 204 218 232 247 262 276 290 300 310 347"],
  [29.38, coreA + " 44 48 52 56 60 64 68 72 76 81 86 92 98 105 112 120 129 139 150 162 175 188 200"],
  [29.25, coreB + " 47 51 55 59 63 67 71 76 81 87 93 100 108 117 127 138 150 163 175"],
  [29.13, coreC + " 46 50 54 58 62 67 72 78 84 91 99 108 118 129 140"],
  [29.0, coreA + " 45 50 56 63 71 80 90 101 113 126 140 155 168 175"],
  [33.19, fill45], [33.065, fill70], [32.94, fill55], [32.815, fill85], [32.69, fill100], [32.565, fill85],
  [32.44, fill130], [32.315, fill120], [32.19, fill150], [32.065, fill130], [31.94, fill175], [31.815, fill150],
  [31.69, fill130], [31.565, fill150], [31.44, fill120], [31.315, fill150], [31.19, fill130], [31.065, fill150],
  [30.94, fill120], [30.815, fill100], [30.69, fill85], [30.565, fill100], [30.44, fill120], [30.315, fill100],
  [30.19, fill130], [30.065, fill100], [29.94, fill85], [29.815, fill120], [29.69, fill100], [29.565, fill85],
  [29.44, fill120], [29.315, fill100], [29.19, fill85], [29.065, fill85],
];
const inLoose: Pt[] = [];

// ---------- layout ----------
interface Panel {
  title: string;
  titleLen: number;
  yLabel: string;
  yLabelLen: number;
  yLabelX: number;
  yLabelY: number;
  yDomain: [number, number];
  yTicks: number[];
  yTickText: string[];
  yMinor: number;
  rows: Row[];
  loose: Pt[];
  left: number;
  top: number;
  bottom: number;
}

const PW = 350;
const panels: Panel[] = [
  { title: "Platform X Position", titleLen: 130, yLabel: "X position (m)", yLabelLen: 67, yLabelX: 15.5, yLabelY: 76,
    yDomain: [-0.141, 0.021], yTicks: platformXTicks, yTickText: platformXTickText, yMinor: 0.01,
    rows: platformXRows, loose: platformXLoose, left: 66, top: 18, bottom: 133 },
  { title: "Platform Y Position", titleLen: 130, yLabel: "Y position (m)", yLabelLen: 65, yLabelX: 471, yLabelY: 78,
    yDomain: [-2.05, 2.07], yTicks: platformYTicks, yTickText: platformYTickText, yMinor: 0.1,
    rows: platformYRows, loose: platformYLoose, left: 500, top: 18, bottom: 133 },
  { title: "Platform Rho Position", titleLen: 147, yLabel: "Rho position (rad)", yLabelLen: 82, yLabelX: 18.5, yLabelY: 237,
    yDomain: [-0.135, 0.141], yTicks: rhoTicks, yTickText: rhoTickText, yMinor: 0.01,
    rows: rhoRows, loose: rhoLoose, left: 66, top: 184, bottom: 299 },
  { title: "Lower Stage position", titleLen: 140, yLabel: "Lower Stage position (m)", yLabelLen: 119, yLabelX: 471.5, yLabelY: 239,
    yDomain: [0.318, 2.165], yTicks: stageTicks, yTickText: stageTickText, yMinor: 0.1,
    rows: stageRows, loose: stageLoose, left: 500, top: 184, bottom: 299 },
  { title: "Temperature at Output", titleLen: 150, yLabel: "Temperature (C)", yLabelLen: 73, yLabelX: 28.5, yLabelY: 403,
    yDomain: [31.72, 34.13], yTicks: outTicks, yTickText: outTickText, yMinor: 0.1,
    rows: outRows, loose: outLoose, left: 66, top: 351, bottom: 467 },
  { title: "Temperature at Input", titleLen: 142, yLabel: "Temperature (C)", yLabelLen: 74, yLabelX: 472.5, yLabelY: 404,
    yDomain: [28.68, 33.51], yTicks: inTicks, yTickText: inTickText, yMinor: 0.1,
    rows: inRows, loose: inLoose, left: 500, top: 351, bottom: 467 },
];

const FONT = "DejaVu Sans";
const SQ = 0.72;

function Txt(props: { x: number; y: number; rot?: boolean; size: number; len?: number; anchor: string; children: React.ReactNode }) {
  const { x, y, rot, size, len, anchor, children } = props;
  return (
    <g transform={`translate(${x},${y})${rot ? " rotate(-90)" : ""} scale(1,${SQ})`}>
      <text
        textAnchor={anchor}
        fontSize={size}
        fontFamily={FONT}
        fill="#111"
        textLength={len}
        lengthAdjust={len ? "spacingAndGlyphs" : undefined}
      >
        {children}
      </text>
    </g>
  );
}

function minorTicks(d0: number, d1: number, step: number): number[] {
  const lo = Math.min(d0, d1), hi = Math.max(d0, d1);
  const out: number[] = [];
  const start = Math.ceil(lo / step - 1e-9);
  const end = Math.floor(hi / step + 1e-9);
  for (let i = start; i <= end; i++) out.push(+(i * step).toFixed(6));
  return out;
}

function PanelView({ p, idx }: { p: Panel; idx: number }) {
  const x = d3.scaleLinear().domain(severityDomain).range([p.left, p.left + PW]);
  const y = d3.scaleLinear().domain(p.yDomain).range([p.bottom, p.top]);
  const pts: Pt[] = [];
  p.rows.forEach(([yv, s]) => {
    s.trim().split(/\s+/).forEach((v) => pts.push([+v, yv]));
  });
  p.loose.forEach((q) => pts.push(q));
  let d = "";
  for (const [a, b] of pts) {
    const px = x(a), py = y(b);
    d += `M${(px - 4.5).toFixed(1)},${py.toFixed(1)}h9M${px.toFixed(1)},${(py - 3).toFixed(1)}v6`;
  }
  const xMinor = minorTicks(0, 400, 10);
  const yMinor = minorTicks(p.yDomain[0], p.yDomain[1], p.yMinor);
  const right = p.left + PW;
  const cx = p.left + PW / 2;
  let tk = "";
  xMinor.forEach((v) => {
    const L = severityTicks.includes(v) ? 4 : 2;
    const px = x(v);
    tk += `M${px},${p.bottom}v${-L}M${px},${p.top}v${L}`;
  });
  yMinor.forEach((v) => {
    const isMajor = p.yTicks.some((t) => Math.abs(t - v) < 1e-6);
    const L = isMajor ? 4 : 2;
    const py = y(v);
    tk += `M${p.left},${py}h${L}M${right},${py}h${-L}`;
  });
  const clipId = `clip${idx}`;
  return (
    <g>
      <defs>
        <clipPath id={clipId}>
          <rect x={p.left} y={p.top} width={PW} height={p.bottom - p.top} />
        </clipPath>
      </defs>
      <path d={d} stroke="#000" strokeWidth={1.2} fill="none" clipPath={`url(#${clipId})`} />
      <rect x={p.left} y={p.top} width={PW} height={p.bottom - p.top} fill="none" stroke="#000" strokeWidth={1} shapeRendering="crispEdges" />
      <path d={tk} stroke="#000" strokeWidth={1} fill="none" shapeRendering="crispEdges" />
      {severityTicks.map((t) => (
        <Txt key={t} x={x(t)} y={p.bottom + 14} size={9.5} anchor="middle">{String(t)}</Txt>
      ))}
      {p.yTicks.map((t, i) => (
        <Txt key={t} x={p.left - 4} y={y(t) + 2.6} size={9.5} anchor="end">{p.yTickText[i]}</Txt>
      ))}
      <Txt x={cx} y={p.top - 3.5} size={13} len={p.titleLen} anchor="middle">{p.title}</Txt>
      <Txt x={cx} y={p.bottom + 24} size={10} len={142} anchor="middle">{severityLabel}</Txt>
      <Txt x={p.yLabelX} y={p.yLabelY} rot size={10} len={p.yLabelLen / SQ} anchor="middle">{p.yLabel}</Txt>
    </g>
  );
}

export default function App() {
  return (
    <svg
      width={872}
      height={501}
      viewBox="0 0 872 501"
      style={{ position: "absolute", left: 0, top: 0, background: "#fff" }}
    >
      <rect x={0} y={0} width={872} height={501} fill="#fff" />
      {panels.map((p, i) => (
        <PanelView key={i} p={p} idx={i} />
      ))}
    </svg>
  );
}
